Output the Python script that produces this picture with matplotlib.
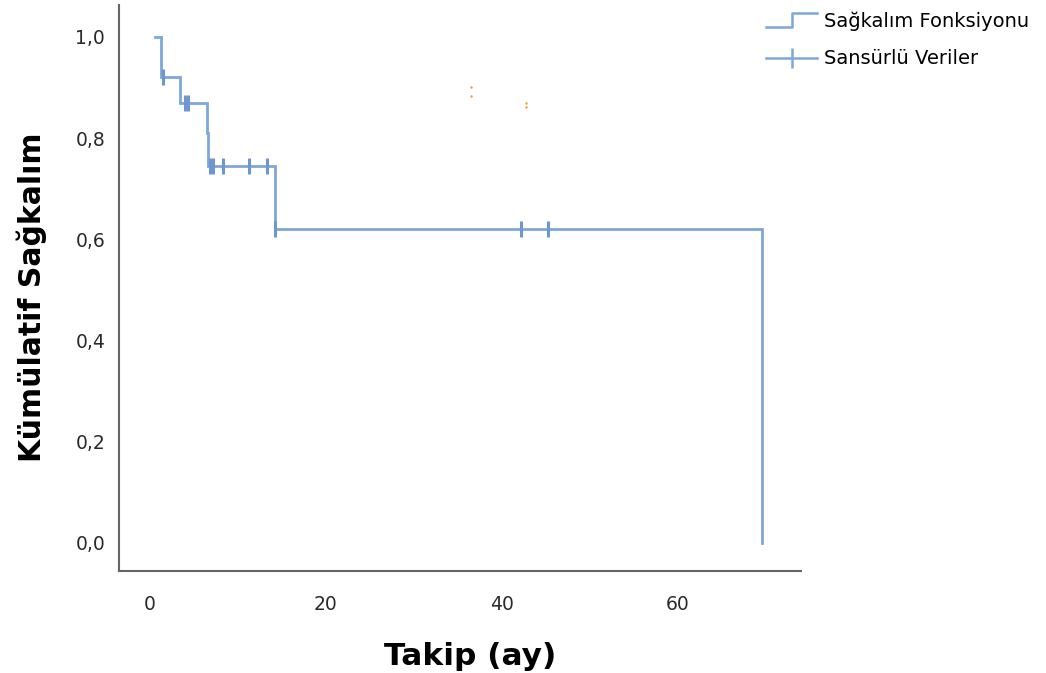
import matplotlib
matplotlib.use("Agg")
import matplotlib.pyplot as plt
from matplotlib.lines import Line2D
from matplotlib.legend_handler import HandlerBase
from matplotlib.ticker import FuncFormatter

# Kaplan-Meier step points (time in months, survival)
step_times = [0.6, 1.3, 3.4, 6.5, 6.6, 14.2, 69.6]
step_surv = [1.0, 0.92, 0.87, 0.81, 0.745, 0.62, 0.0]

# censored observations
cens_times = [1.5, 4.0, 4.3, 6.8, 7.2, 8.3, 11.3, 13.3, 14.2, 42.2, 45.2]
cens_surv = [0.92, 0.87, 0.87, 0.745, 0.745, 0.745, 0.745, 0.745, 0.62, 0.62, 0.62]

# small orange specks in the original image
speck_x = [36.5, 36.5, 42.8, 42.8]
speck_y = [0.90, 0.883, 0.87, 0.862]

xticks = [0, 20, 40, 60]
yticks = [0.0, 0.2, 0.4, 0.6, 0.8, 1.0]

blue = "#7ea7db"


class StepHandler(HandlerBase):
    def create_artists(self, legend, orig_handle, xdescent, ydescent,
                       width, height, fontsize, trans):
        h = height
        xs = [0, width * 0.5, width * 0.5, width]
        ys = [h * 0.0, h * 0.0, h * 1.0, h * 1.0]
        ln = Line2D(xs, ys, color=blue, lw=1.8, transform=trans)
        return [ln]


fig = plt.figure(figsize=(10.46, 6.73), dpi=100)
ax = fig.add_axes([0.1138, 0.1516, 0.652, 0.841])

# build step path from the data
xs = [step_times[0]]
ys = [step_surv[0]]
for i in range(1, len(step_times)):
    xs += [step_times[i], step_times[i]]
    ys += [step_surv[i - 1], step_surv[i]]
ax.plot(xs, ys, color=blue, lw=2.0, solid_joinstyle="miter")
ax.plot(cens_times, cens_surv, ls="none", marker="|", ms=11, mew=2.2,
        color="#6e96cf")
ax.plot(speck_x, speck_y, ls="none", marker="o", ms=1.8, color="#f0a040",
        mew=0)

ax.set_xlim(-3.5, 74)
ax.set_ylim(-0.0553, 1.063)
ax.set_xticks(xticks)
ax.set_yticks(yticks)
ax.yaxis.set_major_formatter(FuncFormatter(lambda v, p: f"{v:.1f}".replace(".", ",")))
ax.tick_params(length=0, labelsize=13.5, labelcolor="#2a2a2a")
ax.tick_params(axis="x", pad=17)
ax.tick_params(axis="y", pad=10)

for s in ["top", "right"]:
    ax.spines[s].set_visible(False)
for s in ["left", "bottom"]:
    ax.spines[s].set_color("#666666")
    ax.spines[s].set_linewidth(1.5)

ax.set_xlabel("Takip (ay)", fontsize=22.5, fontweight="bold")
ax.set_ylabel("Kümülatif Sağkalım", fontsize=21.5, fontweight="bold")
ax.xaxis.set_label_coords(0.515, -0.125)
ax.yaxis.set_label_coords(-0.105, 0.484)

h1 = Line2D([], [], color=blue)
h2 = Line2D([], [], color=blue, lw=1.8, marker="|", ms=14, mew=1.8)
fig.legend([h1, h2], ["Sağkalım Fonksiyonu", "Sansürlü Veriler"],
           handler_map={h1: StepHandler()},
           loc="upper left", bbox_to_anchor=(0.716, 1.009),
           frameon=False, fontsize=14, handlelength=2.6,
           handletextpad=0.35, labelspacing=0.95)

fig.savefig("out.png", dpi=100)
